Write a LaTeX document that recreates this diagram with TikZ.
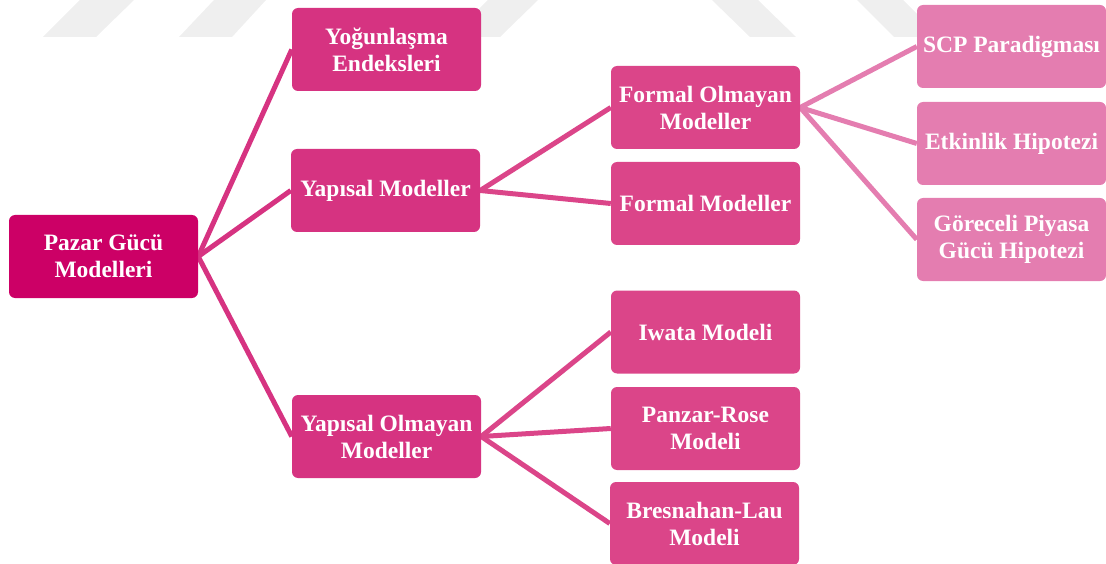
\documentclass[tikz,border=0pt]{standalone}
\usepackage{fontspec}
\setmainfont{Liberation Serif}
\usetikzlibrary{backgrounds}
\definecolor{cRoot}{HTML}{CC0066}
\definecolor{cLevA}{HTML}{D63381}
\definecolor{cLevB}{HTML}{DB4589}
\definecolor{cLevC}{HTML}{E47DB0}
\definecolor{cMark}{HTML}{EFEFEF}
\tikzset{
  box/.style={rectangle, rounded corners=6pt, minimum width=189pt, minimum height=83pt,
    inner sep=0pt, align=center, text=white,
    font=\fontsize{23.5}{27}\selectfont\bfseries},
  rootbox/.style={box, fill=cRoot},
  boxA/.style={box, fill=cLevA},
  boxB/.style={box, fill=cLevB},
  boxC/.style={box, fill=cLevC},
  linkA/.style={line width=5pt, draw=cLevA},
  linkB/.style={line width=5pt, draw=cLevB},
  linkC/.style={line width=5pt, draw=cLevC},
  wmark/.style={fill=cMark, draw=none}
}
\begin{document}
\begin{tikzpicture}[x=1pt, y=-1pt]
\useasboundingbox (0,0) rectangle (1106,564);
% faint watermark stripes
\fill[wmark] (43,37) -- (96,37) -- (134,0) -- (80,0) -- cycle;
\fill[wmark] (179,37) -- (232,37) -- (266,0) -- (214,0) -- cycle;
\fill[wmark] (450,37) -- (500,37) -- (538,0) -- (488,0) -- cycle;
\fill[wmark] (712,0) -- (758,0) -- (796,37) -- (750,37) -- cycle;
\fill[wmark] (857,0) -- (903,0) -- (940,37) -- (894,37) -- cycle;

\node[rootbox] (pazar) at (103.5,256.5) {Pazar Gücü\\Modelleri};
\node[boxA] (yogun) at (386.5,49.5) {Yoğunlaşma\\Endeksleri};
\node[boxA] (yapisal) at (385.5,190.5) {Yapısal Modeller};
\node[boxA] (yapolm) at (386.5,436.5) {Yapısal Olmayan\\Modeller};
\node[boxB] (formolm) at (705.5,107.5) {Formal Olmayan\\Modeller};
\node[boxB] (formal) at (705.5,203.5) {Formal Modeller};
\node[boxB] (iwata) at (705.5,332) {Iwata Modeli};
\node[boxB] (panzar) at (705.5,428.5) {Panzar-Rose\\Modeli};
\node[boxB] (bresn) at (704.5,523.5) {Bresnahan-Lau\\Modeli};
\node[boxC] (scp) at (1011.5,46.5) {SCP Paradigması};
\node[boxC] (etkin) at (1011.5,143.5) {Etkinlik Hipotezi};
\node[boxC] (gorec) at (1011.5,239.5) {Göreceli Piyasa\\Gücü Hipotezi};

\begin{scope}[on background layer]
\draw[linkA] (pazar.east) -- (yogun.west);
\draw[linkA] (pazar.east) -- (yapisal.west);
\draw[linkA] (pazar.east) -- (yapolm.west);
\draw[linkB] (yapisal.east) -- (formolm.west);
\draw[linkB] (yapisal.east) -- (formal.west);
\draw[linkB] (yapolm.east) -- (iwata.west);
\draw[linkB] (yapolm.east) -- (panzar.west);
\draw[linkB] (yapolm.east) -- (bresn.west);
\draw[linkC] (formolm.east) -- (scp.west);
\draw[linkC] (formolm.east) -- (etkin.west);
\draw[linkC] (formolm.east) -- (gorec.west);
\end{scope}
\end{tikzpicture}
\end{document}
